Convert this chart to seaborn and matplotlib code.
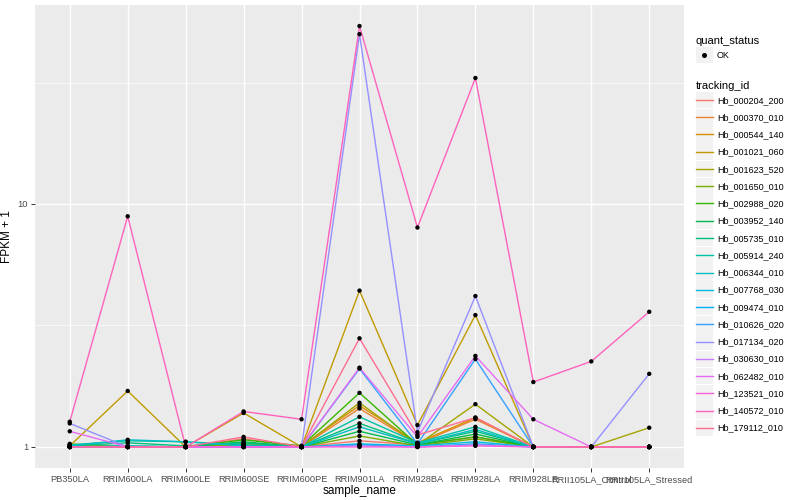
import numpy as np
import pandas as pd
import matplotlib
matplotlib.use("Agg")
import matplotlib.pyplot as plt
import seaborn as sns
from matplotlib.patches import Rectangle
from matplotlib.lines import Line2D
from matplotlib.ticker import FixedLocator, NullFormatter

samples = ["PB350LA", "RRIM600LA", "RRIM600LE", "RRIM600SE", "RRIM600PE",
           "RRIM901LA", "RRIM928BA", "RRIM928LA", "RRIM928LE",
           "RRII105LA_Control", "RRII105LA_Stressed"]

tracking_ids = ["Hb_000204_200", "Hb_000370_010", "Hb_000544_140", "Hb_001021_060",
                "Hb_001623_520", "Hb_001650_010", "Hb_002988_020", "Hb_003952_140",
                "Hb_005735_010", "Hb_005914_240", "Hb_006344_010", "Hb_007768_030",
                "Hb_009474_010", "Hb_010626_020", "Hb_017134_020", "Hb_030630_010",
                "Hb_062482_010", "Hb_123521_010", "Hb_140572_010", "Hb_179112_010"]

hue_colors = ["#F8766D", "#EA8331", "#D89000", "#C09B00", "#A3A500", "#7CAE00",
              "#39B600", "#00BB4E", "#00BF7D", "#00C1A3", "#00BFC4", "#00BAE0",
              "#00B0F6", "#35A2FF", "#9590FF", "#C77CFF", "#E76BF3", "#FA62DB",
              "#FF62BC", "#FF6C91"]

# FPKM + 1 per sample (order as in `samples`)
hb_000204_200 = [1.00, 1.00, 1.00, 1.08, 1.00, 1.06, 1.02, 1.10, 1.00, 1.00, 1.00]
hb_000370_010 = [1.00, 1.00, 1.00, 1.02, 1.00, 1.44, 1.03, 1.30, 1.00, 1.00, 1.00]
hb_000544_140 = [1.02, 1.00, 1.00, 1.03, 1.01, 1.48, 1.04, 1.32, 1.00, 1.00, 1.00]
hb_001021_060 = [1.01, 1.70, 1.00, 1.38, 1.00, 4.40, 1.23, 3.49, 1.00, 1.00, 1.00]
hb_001623_520 = [1.03, 1.00, 1.00, 1.02, 1.00, 1.52, 1.02, 1.50, 1.00, 1.00, 1.20]
hb_001650_010 = [1.00, 1.00, 1.00, 1.02, 1.00, 1.11, 1.01, 1.08, 1.00, 1.00, 1.00]
hb_002988_020 = [1.00, 1.00, 1.00, 1.07, 1.01, 1.67, 1.02, 1.10, 1.00, 1.00, 1.00]
hb_003952_140 = [1.00, 1.01, 1.00, 1.05, 1.00, 1.16, 1.02, 1.13, 1.00, 1.00, 1.00]
hb_005735_010 = [1.01, 1.04, 1.01, 1.04, 1.00, 1.25, 1.03, 1.16, 1.00, 1.00, 1.00]
hb_005914_240 = [1.02, 1.06, 1.05, 1.02, 1.00, 1.33, 1.04, 1.21, 1.00, 1.00, 1.00]
hb_006344_010 = [1.01, 1.07, 1.05, 1.01, 1.00, 1.21, 1.03, 1.18, 1.00, 1.00, 1.00]
hb_007768_030 = [1.00, 1.01, 1.00, 1.00, 1.00, 1.03, 1.01, 1.05, 1.00, 1.00, 1.00]
hb_009474_010 = [1.00, 1.00, 1.00, 1.00, 1.00, 1.02, 1.00, 1.03, 1.00, 1.00, 1.00]
hb_010626_020 = [1.00, 1.00, 1.00, 1.00, 1.00, 2.10, 1.03, 2.30, 1.00, 1.00, 1.00]
hb_017134_020 = [1.25, 1.00, 1.00, 1.00, 1.00, 50.0, 1.15, 4.18, 1.00, 1.00, 2.00]
hb_030630_010 = [1.00, 1.00, 1.00, 1.00, 1.00, 1.01, 1.00, 1.02, 1.00, 1.00, 1.00]
hb_062482_010 = [1.16, 1.00, 1.00, 1.00, 1.00, 2.12, 1.10, 2.37, 1.30, 1.00, 1.00]
hb_123521_010 = [1.00, 1.00, 1.00, 1.00, 1.00, 1.00, 1.00, 1.01, 1.00, 1.00, 1.00]
hb_140572_010 = [1.27, 8.90, 1.00, 1.40, 1.30, 54.0, 8.00, 33.0, 1.85, 2.25, 3.60]
hb_179112_010 = [1.00, 1.00, 1.00, 1.10, 1.00, 2.80, 1.12, 1.32, 1.00, 1.00, 1.00]

series = [hb_000204_200, hb_000370_010, hb_000544_140, hb_001021_060, hb_001623_520,
          hb_001650_010, hb_002988_020, hb_003952_140, hb_005735_010, hb_005914_240,
          hb_006344_010, hb_007768_030, hb_009474_010, hb_010626_020, hb_017134_020,
          hb_030630_010, hb_062482_010, hb_123521_010, hb_140572_010, hb_179112_010]

rows = []
for tid, vals in zip(tracking_ids, series):
    for s, v in zip(samples, vals):
        rows.append({"tracking_id": tid, "sample_name": s, "fpkm1": v, "quant_status": "OK"})
df = pd.DataFrame(rows)
df["sample_name"] = pd.Categorical(df["sample_name"], categories=samples, ordered=True)
df["xpos"] = df["sample_name"].cat.codes

plt.rcParams["font.family"] = ["Liberation Sans", "DejaVu Sans"]

fig = plt.figure(figsize=(8, 5), dpi=100)
ax = fig.add_axes([35 / 800, 1 - 468 / 500, (684 - 35) / 800, (468 - 5) / 500])
ax.set_facecolor("#EBEBEB")

sns.lineplot(data=df, x="xpos", y="fpkm1", hue="tracking_id", hue_order=tracking_ids,
             palette=hue_colors, estimator=None, errorbar=None, sort=False,
             linewidth=1.0, legend=False, ax=ax, zorder=3)
sns.scatterplot(data=df, x="xpos", y="fpkm1", color="black", s=10, marker="o",
                edgecolor="none", legend=False, ax=ax, zorder=4)

ax.set_yscale("log")
lo, hi = np.log10(df["fpkm1"].min()), np.log10(df["fpkm1"].max())
pad = 0.05 * (hi - lo)
ax.set_ylim(10 ** (lo - pad), 10 ** (hi + pad))
ax.set_xlim(-0.6, len(samples) - 1 + 0.6)

ax.yaxis.set_major_locator(FixedLocator([1, 10]))
ax.yaxis.set_minor_locator(FixedLocator([10 ** 0.5, 10 ** 1.5]))
ax.yaxis.set_minor_formatter(NullFormatter())
ax.set_yticklabels(["1", "10"])
ax.set_xticks(range(len(samples)))
ax.set_xticklabels(samples)

ax.grid(which="major", color="white", linewidth=1.0, zorder=0)
ax.grid(which="minor", axis="y", color="white", linewidth=0.5, zorder=0)
ax.set_axisbelow(True)
for sp in ax.spines.values():
    sp.set_visible(False)
ax.tick_params(axis="both", which="major", length=3, width=0.7, color="#333333",
               labelsize=6.7, labelcolor="#4D4D4D", pad=2)
ax.tick_params(axis="y", which="minor", length=0)

ax.set_xlabel("sample_name", fontsize=8.5, color="black", labelpad=1)
ax.set_ylabel("FPKM + 1", fontsize=8.5, color="black", labelpad=3)

key_bg = "#F2F2F2"


class KeyHandler:
    """ggplot-like legend key: grey box with a centred line or point."""

    def legend_artist(self, legend, orig_handle, fontsize, handlebox):
        x0, y0 = handlebox.xdescent, handlebox.ydescent
        w, h = handlebox.width, handlebox.height
        tr = handlebox.get_transform()
        rect = Rectangle((-x0, -y0), w, h, facecolor=key_bg, edgecolor="none", transform=tr)
        handlebox.add_artist(rect)
        cy = -y0 + h / 2
        if orig_handle.get_marker() not in (None, "None", "", " "):
            art = Line2D([-x0 + w / 2], [cy], marker=orig_handle.get_marker(),
                         markersize=orig_handle.get_markersize(), color=orig_handle.get_color(),
                         linestyle="none", transform=tr)
        else:
            art = Line2D([-x0, -x0 + w], [cy, cy], color=orig_handle.get_color(),
                         linewidth=orig_handle.get_linewidth(), transform=tr)
        handlebox.add_artist(art)
        return rect


leg_kw = dict(handler_map={Line2D: KeyHandler()}, loc="upper left",
              frameon=False, fontsize=6.5, title_fontsize=8, handlelength=1.88,
              handleheight=2.44, labelspacing=0.08, handletextpad=0.45,
              alignment="left", borderpad=0, borderaxespad=0)

h1 = [Line2D([], [], marker="o", color="black", linestyle="none", markersize=2.6)]
leg1 = fig.legend(h1, ["OK"], bbox_to_anchor=(696 / 800, 1 - 36 / 500),
                  title="quant_status", **leg_kw)

h2 = [Line2D([], [], color=c, linewidth=1.0) for c in hue_colors]
leg2 = fig.legend(h2, tracking_ids, bbox_to_anchor=(696 / 800, 1 - 81 / 500),
                  title="tracking_id", **leg_kw)

fig.savefig("out.png", dpi=100)
